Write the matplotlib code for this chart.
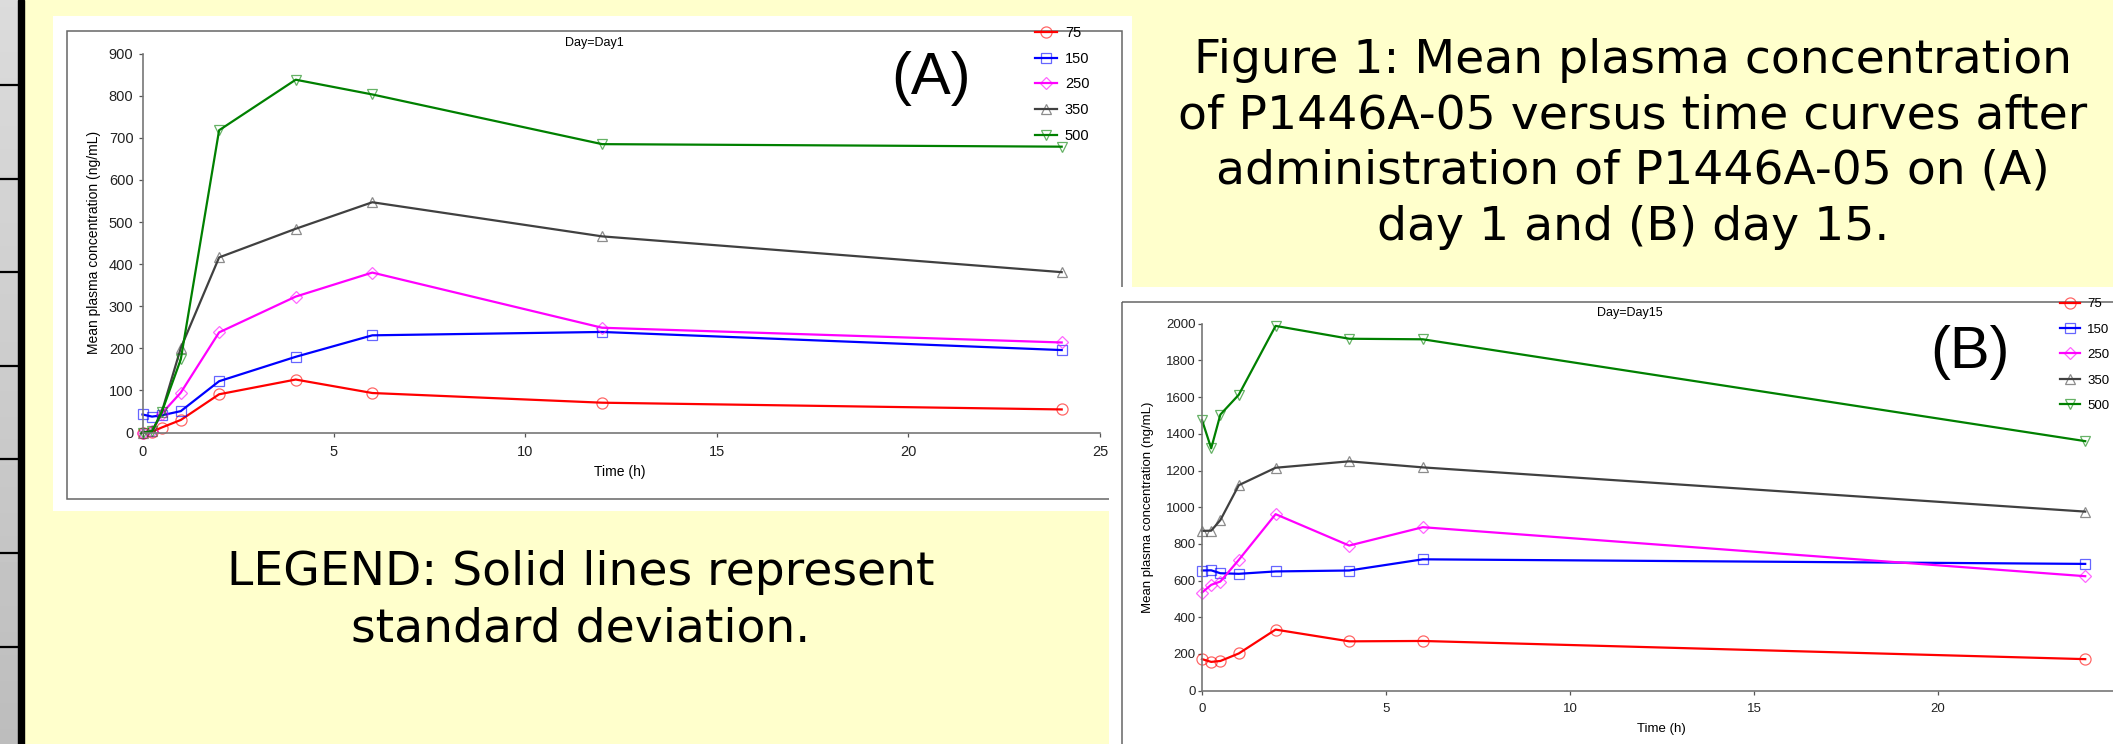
import numpy as np
import matplotlib
matplotlib.use('Agg')
import matplotlib.pyplot as plt
from matplotlib.colors import to_rgba
from matplotlib.patches import Rectangle

W, H = 2113, 744

# dose groups (legend labels)
doses = ['75', '150', '250', '350', '500']

# day 1 mean concentrations (ng/mL)
time_day1 = [0, 0.25, 0.5, 1, 2, 4, 6, 12, 24]
day1_75 = [0, 2, 12, 30, 91, 126, 94, 71, 55]
day1_150 = [43, 38, 41, 51, 122, 180, 231, 239, 196]
day1_250 = [0, 3, 45, 95, 238, 323, 380, 249, 214]
day1_350 = [0, 3, 48, 201, 416, 484, 547, 466, 381]
day1_500 = [0, 3, 48, 174, 718, 838, 803, 685, 679]

# day 15 mean concentrations (ng/mL)
time_day15 = [0, 0.25, 0.5, 1, 2, 4, 6, 24]
day15_75 = [172, 157, 162, 203, 333, 269, 271, 172]
day15_150 = [655, 656, 640, 637, 650, 655, 716, 691]
day15_250 = [535, 577, 595, 713, 962, 791, 891, 624]
day15_350 = [871, 872, 930, 1120, 1215, 1250, 1217, 976]
day15_500 = [1475, 1321, 1505, 1613, 1988, 1918, 1915, 1360]

day1_series = [day1_75, day1_150, day1_250, day1_350, day1_500]
day15_series = [day15_75, day15_150, day15_250, day15_350, day15_500]

caption_lines = ['Figure 1: Mean plasma concentration',
                 'of P1446A-05 versus time curves after',
                 'administration of P1446A-05 on (A)',
                 'day 1 and (B) day 15.']
legend_lines = ['LEGEND: Solid lines represent', 'standard deviation.']

colors = ['#ff0000', '#0000ff', '#ff00ff', '#404040', '#008000']
markers = ['o', 's', 'D', '^', 'v']
msizes = [8, 7, 6.5, 7.5, 7.5]

plt.rcParams['font.family'] = ['Liberation Sans', 'DejaVu Sans']

fig = plt.figure(figsize=(W / 100, H / 100), dpi=100)
fig.patch.set_facecolor('#ffffcc')


def box(l, t, r, b):
    return [l / W, 1 - b / H, (r - l) / W, (b - t) / H]


# background layer in pixel coordinates
bg = fig.add_axes([0, 0, 1, 1])
grad = np.linspace(0.86, 0.74, 200).reshape(-1, 1)
bg.imshow(grad, extent=[0, 18, H, 0], cmap='gray', vmin=0, vmax=1, aspect='auto')
bg.add_patch(Rectangle((18, 0), 6, H, color='black'))
for k in range(7):
    bg.plot([0, 18], [85 + 93.6 * k] * 2, color='black', lw=1.6)

bg.add_patch(Rectangle((53, 16), 1132 - 53, 511 - 16, fc='white', ec='none'))
bg.add_patch(Rectangle((67, 31), 1122 - 67, 499 - 31, fc='none', ec='#666666', lw=1.1))
bg.add_patch(Rectangle((1109, 287), W - 1109 + 5, H - 287 + 5, fc='white', ec='none'))
bg.add_patch(Rectangle((1122, 302), W - 1122 + 10, H - 302 + 10, fc='none', ec='#666666', lw=1.1))

for i, line in enumerate(caption_lines):
    bg.text(1633, 73 + 55.5 * i, line, ha='center', va='baseline', fontsize=34,
            family='DejaVu Sans', color='black')
for i, line in enumerate(legend_lines):
    bg.text(581, 585 + 57 * i, line, ha='center', va='baseline', fontsize=34,
            family='DejaVu Sans', color='black')

ylab = 'Mean plasma concentration (ng/mL)'
bg.text(594, 43, 'Day=Day1', ha='center', va='center', fontsize=9)
bg.text(931, 79, '(A)', ha='center', va='center', fontsize=43)
bg.text(620, 472, 'Time (h)', ha='center', va='center', fontsize=10)
bg.text(94, 242, ylab, rotation=90, ha='center', va='center', fontsize=10)
bg.text(1630, 313, 'Day=Day15', ha='center', va='center', fontsize=9)
bg.text(1970, 352, '(B)', ha='center', va='center', fontsize=43)
bg.text(1661, 729, 'Time (h)', ha='center', va='center', fontsize=9.5)
bg.text(1148, 507, ylab, rotation=90, ha='center', va='center', fontsize=9.5)

bg.set_xlim(0, W)
bg.set_ylim(H, 0)
bg.axis('off')


def style_axes(ax, size, ypad):
    ax.patch.set_alpha(0)
    for s in ['top', 'right']:
        ax.spines[s].set_visible(False)
    for s in ['left', 'bottom']:
        ax.spines[s].set_color('#777777')
        ax.spines[s].set_linewidth(1.2)
    ax.tick_params(axis='both', direction='out', length=3, width=0.9, color='#555555',
                   labelcolor='#222222', labelsize=size)
    ax.tick_params(axis='x', pad=6)
    ax.tick_params(axis='y', pad=ypad)


def draw_series(ax, t, series):
    for vals, lab, c, m, ms in zip(series, doses, colors, markers, msizes):
        ax.plot(t, vals, color=c, lw=1.6, marker=m, ms=ms, mfc='none',
                mec=to_rgba(c, 0.6), mew=0.9, label=lab, clip_on=False)


# panel A: day 1
axA = fig.add_axes(box(142.5, 53.6, 1100, 432.6))
draw_series(axA, time_day1, day1_series)
axA.set_xlim(0, 25)
axA.set_ylim(0, 900)
axA.set_xticks(np.arange(0, 26, 5))
axA.set_yticks(np.arange(0, 901, 100))
style_axes(axA, 10.5, 3.5)
axA.legend(loc='upper left', bbox_to_anchor=(1035 / W, 1 - 26 / H),
           bbox_transform=fig.transFigure, frameon=False, fontsize=10.5,
           handlelength=1.5, handletextpad=0.55, labelspacing=0.8,
           borderpad=0, borderaxespad=0)

# panel B: day 15
axB = fig.add_axes(box(1202, 323.7, W, 690.7))
draw_series(axB, time_day15, day15_series)
axB.set_xlim(0, (W - 1202) / 36.8)
axB.set_ylim(0, 2000)
axB.set_xticks(np.arange(0, 21, 5))
axB.set_yticks(np.arange(0, 2001, 200))
style_axes(axB, 9.5, 1.5)
axB.legend(loc='upper left', bbox_to_anchor=(2060 / W, 1 - 298 / H),
           bbox_transform=fig.transFigure, frameon=False, fontsize=9.5,
           handlelength=1.5, handletextpad=0.55, labelspacing=1.0,
           borderpad=0, borderaxespad=0)

fig.savefig('out.png', dpi=100)
